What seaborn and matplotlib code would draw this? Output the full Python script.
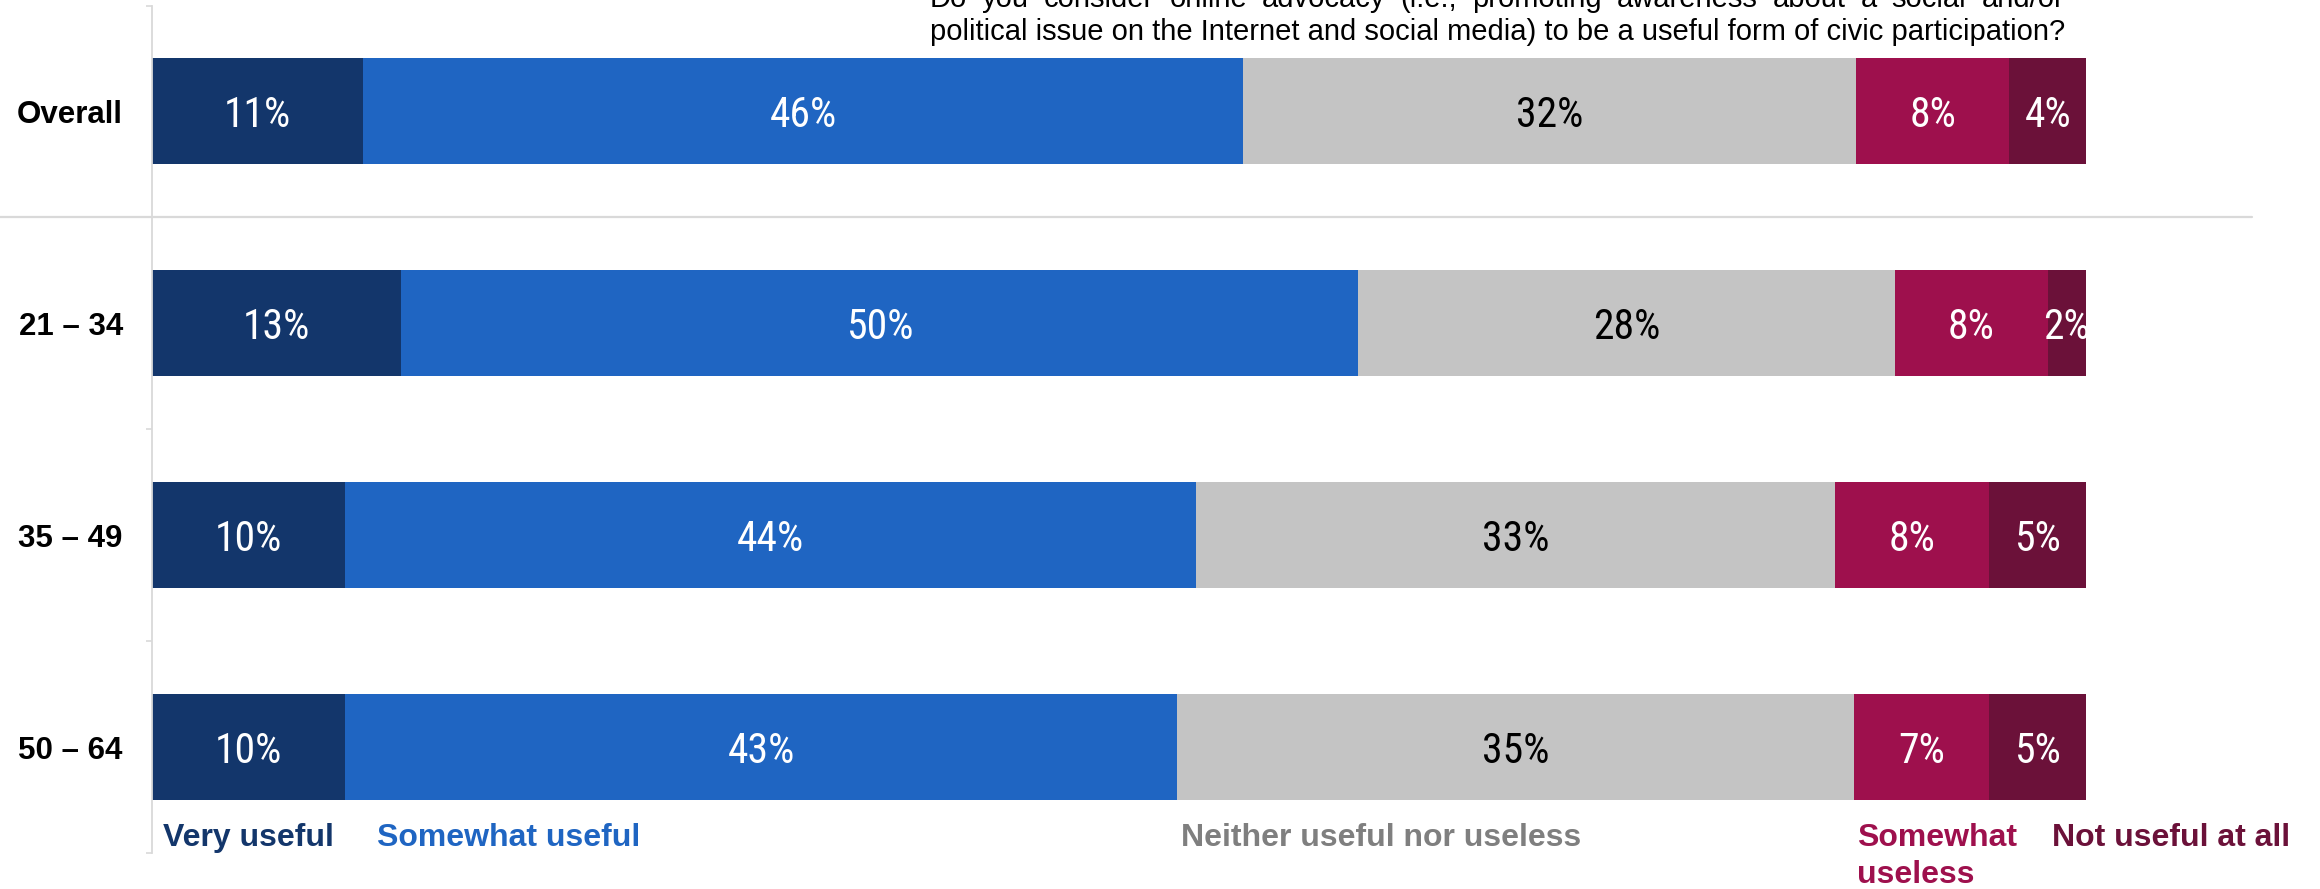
import numpy as np
import pandas as pd
import matplotlib
matplotlib.use("Agg")
import matplotlib.pyplot as plt
import matplotlib.transforms as mtransforms
import seaborn as sns
from matplotlib import font_manager

# ---- data -----------------------------------------------------------------
groups = ["Overall", "21 – 34", "35 – 49", "50 – 64"]
responses = ["Very useful", "Somewhat useful", "Neither useful nor useless",
             "Somewhat\nuseless", "Not useful at all"]
very_useful = [11, 13, 10, 10]
somewhat_useful = [46, 50, 44, 43]
neither = [32, 28, 33, 35]
somewhat_useless = [8, 8, 8, 7]
not_useful = [4, 2, 5, 5]

question_lines = [
    "Do you consider online advocacy (i.e., promoting awareness about a social and/or",
    "political issue on the Internet and social media) to be a useful form of civic participation?",
]

# ---- style ----------------------------------------------------------------
bar_colors = ["#13366b", "#1f65c2", "#c4c4c4", "#9e104d", "#6b1139"]
legend_colors = ["#13366b", "#1f65c2", "#7f7f7f", "#9e104d", "#6b1139"]
label_colors = ["white", "white", "black", "white", "white"]
axis_grey = "#d9d9d9"

sns.set_theme(style="white")
plt.rcParams["font.family"] = ["Liberation Sans", "DejaVu Sans"]

# a condensed face for the percentages, if one is installed
installed = sorted({f.name for f in font_manager.fontManager.ttflist})
preferred = ["Liberation Sans Narrow", "Arial Narrow", "Roboto Condensed",
             "Noto Sans Condensed", "Open Sans Condensed"]
narrow = next((n for n in preferred if n in installed), None)
if narrow is None:
    narrow = next((n for n in installed
                   if ("Narrow" in n or "Condensed" in n)
                   and "Semi" not in n and "Extra" not in n and "Ultra" not in n), None)
if narrow is not None:
    value_family, value_size = [narrow, "DejaVu Sans"], 30
else:
    value_family, value_size = ["Liberation Sans", "DejaVu Sans"], 26

W, H = 2320, 889
fig = plt.figure(figsize=(W / 100, H / 100), dpi=100)
ax = fig.add_axes([152 / W, 1 - 853 / H, (2086 - 152) / W, (853 - 5.5) / H])

# ---- stacked 100% bars (cumulative totals drawn back to front) ------------
series = [very_useful, somewhat_useful, neither, somewhat_useless, not_useful]
counts = np.array(series, dtype=float)
share = counts / counts.sum(axis=0) * 100
cum = share.cumsum(axis=0)

df = pd.DataFrame({"group": groups})
for k in range(len(series)):
    df[f"cum{k}"] = cum[k]

for k in reversed(range(len(series))):
    sns.barplot(data=df, x=f"cum{k}", y="group", order=groups, orient="h",
                color=bar_colors[k], saturation=1, width=0.5,
                linewidth=0, ax=ax)

for k in range(len(series)):
    for i in range(len(groups)):
        ax.text(cum[k, i] - share[k, i] / 2, i, f"{series[k][i]}%",
                ha="center", va="center_baseline", color=label_colors[k],
                fontsize=value_size, family=value_family)

# ---- axes -----------------------------------------------------------------
ax.set_xlim(0, 100)
ax.set_ylim(len(groups) - 0.5, -0.5)
ax.set_xlabel("")
ax.set_ylabel("")
ax.set_xticks([])
ax.set_yticks(range(len(groups)))
ax.set_yticklabels(groups, fontsize=22.5, fontweight="bold", color="black")
ax.set_yticks(np.arange(-0.5, len(groups)), minor=True)
ax.tick_params(axis="y", which="major", length=0, pad=21)
ax.tick_params(axis="y", which="minor", length=4.5, width=1.2, color=axis_grey, left=True)
for side in ["top", "right", "bottom"]:
    ax.spines[side].set_visible(False)
ax.spines["left"].set_color(axis_grey)
ax.spines["left"].set_linewidth(1.3)

# separator under the "Overall" row
span = 2086 - 152
ax.plot([(0 - 152) / span, (2252 - 152) / span], [0.5, 0.5], color=axis_grey, lw=1.6,
        transform=mtransforms.blended_transform_factory(ax.transAxes, ax.transData),
        clip_on=False, zorder=0)

# ---- response labels underneath ------------------------------------------
legend_x = [163, 377, 1181, 1857, 2052]
line_step = 37
for name, col, xpx in zip(responses, legend_colors, legend_x):
    for j, part in enumerate(name.split("\n")):
        fig.text(xpx / W, 1 - (846 + j * line_step) / H, part, color=col, fontsize=23,
                 fontweight="bold", ha="left", va="baseline")

# ---- question text (first line justified) ---------------------------------
left_px, right_px = 930, 2064
renderer = fig.canvas.get_renderer()

def text_width(s, size):
    t = fig.text(0, 0, s, fontsize=size)
    w = t.get_window_extent(renderer).width
    t.remove()
    return w

# size the question so its second line fills the text box
title_size = 19 * (right_px - left_px) / text_width(question_lines[1], 19)

words = question_lines[0].split(" ")
widths = [text_width(w, title_size) for w in words]
gap = (right_px - left_px - sum(widths)) / (len(words) - 1)
x = left_px
for w, wd in zip(words, widths):
    fig.text(x / W, 1 - 7 / H, w, fontsize=title_size, color="black",
             ha="left", va="baseline")
    x += wd + gap

fig.text(left_px / W, 1 - 40 / H, question_lines[1], fontsize=title_size,
         color="black", ha="left", va="baseline")

fig.savefig("out.png", dpi=100, facecolor="white")
